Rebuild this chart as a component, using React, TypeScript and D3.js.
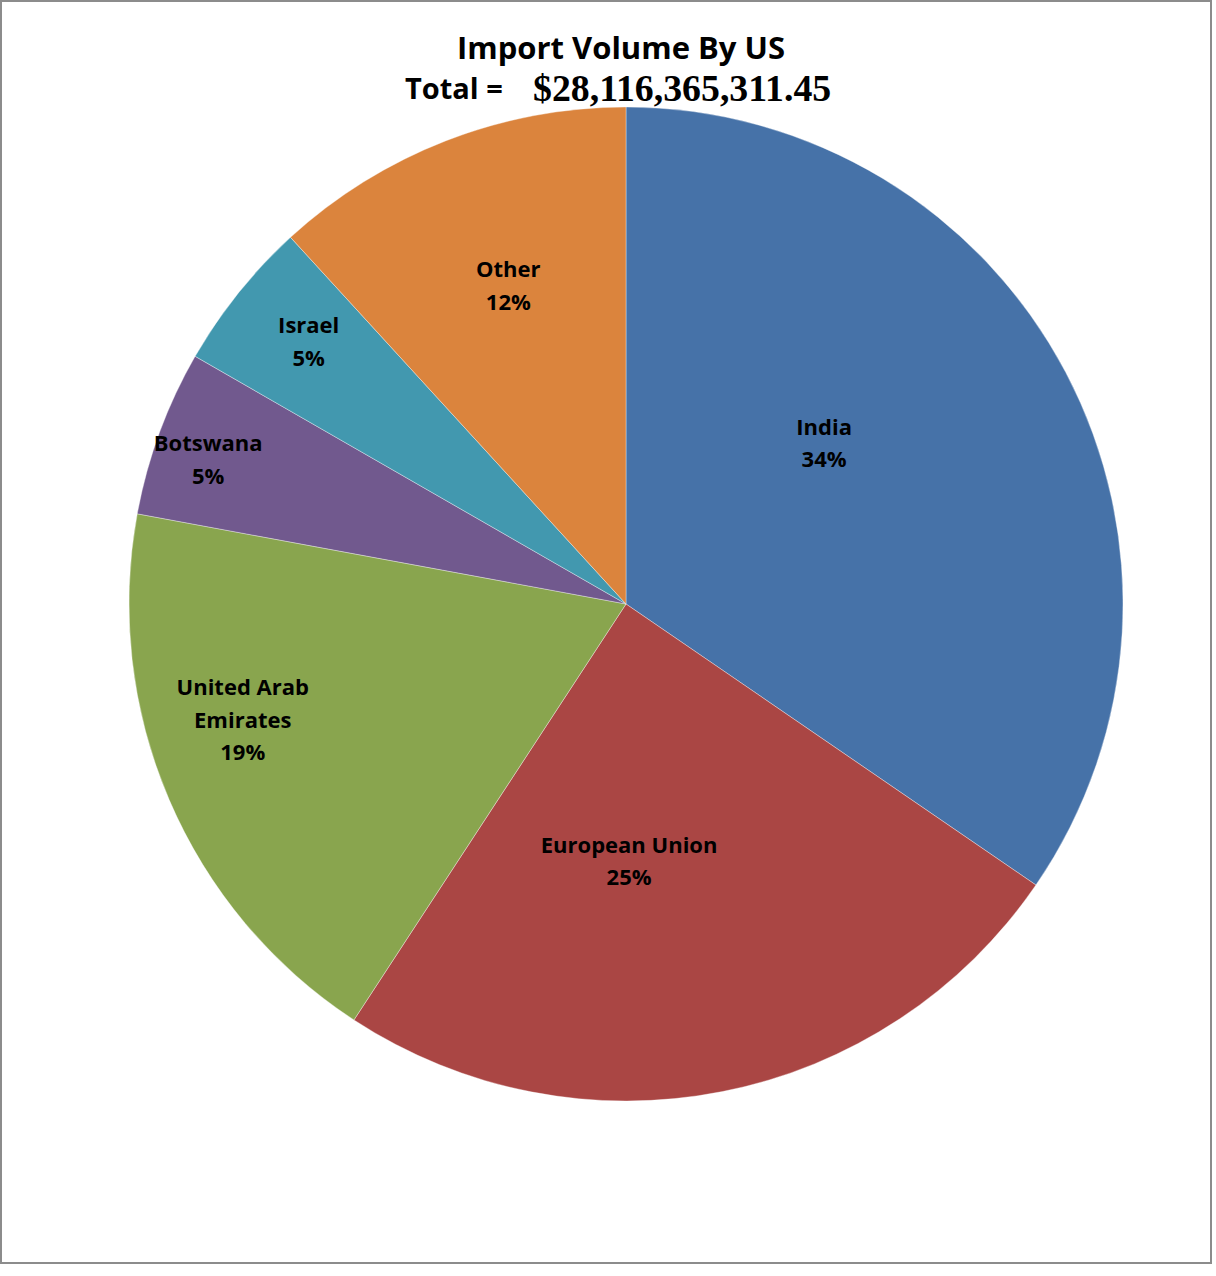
import React from "react";
import * as d3 from "d3";

const categories = ["India", "European Union", "United Arab Emirates", "Botswana", "Israel", "Other"];
const valuesBillions = [9.73, 6.94, 5.26, 1.52, 1.38, 3.32];
const percentLabels = ["34%", "25%", "19%", "5%", "5%", "12%"];
const labelLines = [["India"], ["European Union"], ["United Arab", "Emirates"], ["Botswana"], ["Israel"], ["Other"]];
const colors = ["#4672A8", "#AA4644", "#89A54E", "#71598E", "#4298AF", "#DB843D"];
const titleLine1 = "Import Volume By US";
const titleTotalLabel = "Total =";
const titleTotalValue = "$28,116,365,311.45";

// label layout (radius as fraction of pie radius, angle nudge in degrees)
const labelRadius = [0.515, 0.515, 0.805, 0.89, 0.83, 0.685];
const labelAngleNudge = [-11.5, 10.5, 6.5, -1, 1, 1];

const W = 1216;
const H = 1276;
const cx = 626;
const cy = 604;
const R = 497;

export default function App() {
  const data = categories.map((c, i) => ({ c, v: valuesBillions[i], i }));
  const pie = d3.pie<any>().value((d) => d.v).sort(null);
  const arcs = pie(data);
  const arc = d3.arc<any>().innerRadius(0).outerRadius(R);
  const font = "'Open Sans', Lato, sans-serif";
  return (
    <div style={{ position: "absolute", left: 0, top: 0 }}>
      <svg width={W} height={H} xmlns="http://www.w3.org/2000/svg">
        <rect x={0} y={0} width={W} height={H} fill="#fff" />
        <rect x={1} y={1} width={1210} height={1262} fill="#fff" stroke="#8c8c8c" strokeWidth={2} />
        <g transform={`translate(${cx},${cy})`}>
          {arcs.map((a, i) => (
            <path key={i} d={arc(a) as string} fill={colors[i]} stroke="#ffffff" strokeOpacity={0.35} strokeWidth={1} />
          ))}
          {arcs.map((a, i) => {
            const mid = (a.startAngle + a.endAngle) / 2 + (labelAngleNudge[i] * Math.PI) / 180;
            const r = R * labelRadius[i];
            const x = Math.sin(mid) * r;
            const y = -Math.cos(mid) * r + 3;
            const lines = [...labelLines[i], percentLabels[i]];
            const lh = 32.5;
            const y0 = y - ((lines.length - 1) * lh) / 2;
            return (
              <text key={"t" + i} x={x} y={y0} textAnchor="middle" fontFamily={font} fontWeight={700} fontSize={22} fill="#000" dominantBaseline="middle">
                {lines.map((l, j) => (
                  <tspan key={j} x={x} y={y0 + j * lh}>{l}</tspan>
                ))}
              </text>
            );
          })}
        </g>
        <text x={621} y={59} textAnchor="middle" fontFamily={font} fontWeight={700} fontSize={31} fill="#000">{titleLine1}</text>
        <text x={405} y={99} fontFamily={font} fontWeight={700} fontSize={29} fill="#000">{titleTotalLabel}</text>
        <text x={533} y={101} fontFamily="'Liberation Serif', 'Times New Roman', serif" fontWeight={700} fontSize={37.8} fill="#000">{titleTotalValue}</text>
      </svg>
    </div>
  );
}
